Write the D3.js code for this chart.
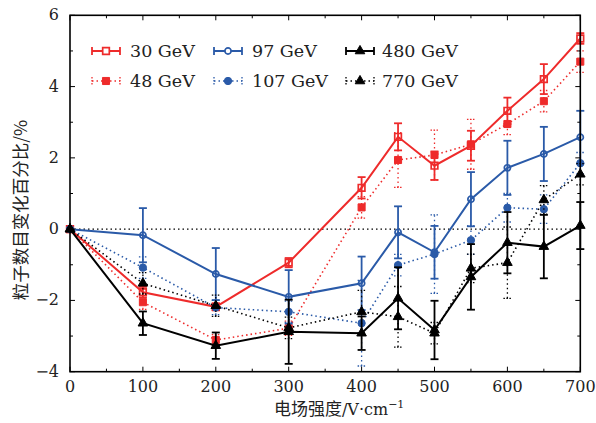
<!DOCTYPE html>
<html><head><meta charset="utf-8">
<script src="https://cdn.jsdelivr.net/npm/d3@7/dist/d3.min.js"></script>
<style>body{margin:0;background:#fff}</style>
</head><body>
<svg id="c" width="596" height="423"></svg>
<script>
const xValues = [0,100,200,300,400,450,500,550,600,650,700];
const s30  = [0,-1.77,-2.18,-0.94,1.16,2.59,1.78,2.34,3.32,4.21,5.35];
const e30  = [0,0.15,0.10,0.13,0.30,0.38,0.40,0.42,0.37,0.42,0.15];
const s48  = [0,-2.05,-3.11,-2.78,0.61,1.94,2.08,2.38,2.95,3.59,4.70];
const e48  = [0,0.20,0.15,0.20,0.30,0.77,0.70,0.70,0.30,0.30,0.30];
const s97  = [0,-0.17,-1.26,-1.90,-1.52,-0.09,-0.65,0.84,1.72,2.11,2.58];
const e97  = [0,0.76,0.73,0.75,0.75,0.73,0.74,0.76,0.76,0.76,0.74];
const s107 = [0,-1.08,-2.20,-2.32,-2.64,-1.01,-0.70,-0.31,0.60,0.56,1.85];
const e107 = [0,0.30,0.20,0.30,1.20,0.30,1.10,0.40,0.40,0.40,0.30];
const s480 = [0,-2.64,-3.27,-2.88,-2.92,-1.94,-2.83,-1.34,-0.38,-0.49,0.10];
const e480 = [0,0.33,0.37,0.90,0.47,0.87,0.82,0.92,0.86,0.89,0.66];
const s770 = [0,-1.52,-2.15,-2.77,-2.32,-2.46,-2.92,-1.10,-0.94,0.82,1.54];
const e770 = [0,0.30,0.30,0.30,0.60,0.85,0.30,0.40,1.00,0.40,0.30];
const seriesNames = ["30 GeV","48 GeV","97 GeV","107 GeV","480 GeV","770 GeV"];
const xTicks = [0,100,200,300,400,500,600,700];
const yTicks = [-4,-2,0,2,4,6];
const xLabel = "电场强度/V·cm";
const yLabel = "粒子数目变化百分比/%";

const RED="#ee2b2b", BLUE="#2a5aa8", BLACK="#000";
const series = [
  {name:seriesNames[0], v:s30,  e:e30,  color:RED,   dotted:false, sym:d3.symbolSquare,   open:true,  size:44},
  {name:seriesNames[1], v:s48,  e:e48,  color:RED,   dotted:true,  sym:d3.symbolSquare,   open:false, size:50},
  {name:seriesNames[2], v:s97,  e:e97,  color:BLUE,  dotted:false, sym:d3.symbolCircle,   open:true,  size:30},
  {name:seriesNames[3], v:s107, e:e107, color:BLUE,  dotted:true,  sym:d3.symbolCircle,   open:false, size:42},
  {name:seriesNames[4], v:s480, e:e480, color:BLACK, dotted:false, sym:d3.symbolTriangle, open:false, size:40},
  {name:seriesNames[5], v:s770, e:e770, color:BLACK, dotted:true,  sym:d3.symbolTriangle, open:false, size:40}
];

const L=70, R=580.3, T=15.3, B=371.7;
const svg=d3.select("#c");
const x=d3.scaleLinear().domain([0,700]).range([L,R]);
const y=d3.scaleLinear().domain([-4,6]).range([B,T]);
const serif="'DejaVu Serif',serif";
const cjk="'Noto Sans CJK SC',sans-serif";

svg.append("line").attr("x1",x(0)).attr("x2",x(700)).attr("y1",y(0)).attr("y2",y(0))
  .attr("stroke","#000").attr("stroke-width",1.2).attr("stroke-dasharray","1.5,3");

const line=d3.line().x((d,i)=>x(xValues[i])).y(d=>y(d));
series.forEach(s=>{
  const g=svg.append("g");
  const dash = s.dotted ? "1.5,3" : null;
  s.v.forEach((v,i)=>{
    const e=s.e[i]; if(!e) return;
    const cx=x(xValues[i]);
    g.append("line").attr("x1",cx).attr("x2",cx).attr("y1",y(v-e)).attr("y2",y(v+e))
      .attr("stroke",s.color).attr("stroke-width",s.dotted?1.3:1.8).attr("stroke-dasharray",dash);
    [v-e,v+e].forEach(yy=>g.append("line").attr("x1",cx-4).attr("x2",cx+4).attr("y1",y(yy)).attr("y2",y(yy))
      .attr("stroke",s.color).attr("stroke-width",s.dotted?1.3:1.8).attr("stroke-dasharray",s.dotted?"1.5,1.5":null));
  });
  g.append("path").attr("d",line(s.v)).attr("fill","none").attr("stroke",s.color)
    .attr("stroke-width",s.dotted?1.6:2).attr("stroke-dasharray",dash);
  s.v.forEach((v,i)=>{
    g.append("path").attr("d",d3.symbol(s.sym,s.size)()).attr("transform",`translate(${x(xValues[i])},${y(v)})`)
      .attr("fill",s.open?"none":s.color).attr("stroke",s.color).attr("stroke-width",s.open?1.7:1);
  });
});

svg.append("rect").attr("x",L).attr("y",T).attr("width",R-L).attr("height",B-T)
  .attr("fill","none").attr("stroke","#000").attr("stroke-width",1.6);
const tk=svg.append("g").attr("stroke","#000").attr("stroke-width",1);
d3.range(0,701,50).forEach(v=>{
  const len = v%100===0?5:3;
  tk.append("line").attr("x1",x(v)).attr("x2",x(v)).attr("y1",B).attr("y2",B-len);
  tk.append("line").attr("x1",x(v)).attr("x2",x(v)).attr("y1",T).attr("y2",T+len);
});
d3.range(-4,6.01,1).forEach(v=>{
  const len = v%2===0?5:3;
  tk.append("line").attr("x1",L).attr("x2",L+len).attr("y1",y(v)).attr("y2",y(v));
  tk.append("line").attr("x1",R).attr("x2",R-len).attr("y1",y(v)).attr("y2",y(v));
});
const fmt=d=>d<0?"\u2212"+Math.abs(d):String(d);
svg.append("g").selectAll("text").data(xTicks).join("text")
  .attr("x",d=>x(d)).attr("y",B+20).attr("text-anchor","middle")
  .attr("font-family",serif).attr("font-size",16).attr("fill","#222").text(fmt);
svg.append("g").selectAll("text").data(yTicks).join("text")
  .attr("x",L-11).attr("y",d=>y(d)+5).attr("text-anchor","end")
  .attr("font-family",serif).attr("font-size",16).attr("fill","#222").text(fmt);

const xt=svg.append("text").attr("x",(L+R)/2+14).attr("y",415).attr("text-anchor","middle")
  .attr("font-family",cjk).attr("font-size",17).attr("fill","#222");
xt.append("tspan").text("电场强度");
xt.append("tspan").attr("font-family",serif).attr("font-size",16).text("/V·cm");
xt.append("tspan").attr("font-family",serif).attr("font-size",11).attr("dy",-7).text("\u22121");
svg.append("text").attr("transform","translate(27,210) rotate(-90)").attr("text-anchor","middle")
  .attr("font-family",cjk).attr("font-size",17.5).attr("fill","#222").text(yLabel);

const cols=[[92,130],[214,252],[346,382]];
const rows=[51,81];
series.forEach((s,i)=>{
  const c=cols[Math.floor(i/2)], r=rows[i%2];
  const g=svg.append("g");
  const dash=s.dotted?"1.5,3":null;
  g.append("line").attr("x1",c[0]).attr("x2",c[0]+28).attr("y1",r).attr("y2",r)
    .attr("stroke",s.color).attr("stroke-width",s.dotted?1.6:2).attr("stroke-dasharray",dash);
  [c[0],c[0]+28].forEach(xx=>g.append("line").attr("x1",xx).attr("x2",xx).attr("y1",r-4).attr("y2",r+4)
    .attr("stroke",s.color).attr("stroke-width",s.dotted?1.3:1.8).attr("stroke-dasharray",s.dotted?"1.5,1.5":null));
  g.append("path").attr("d",d3.symbol(s.sym,s.size)()).attr("transform",`translate(${c[0]+14},${r})`)
    .attr("fill",s.open?"#fff":s.color).attr("stroke",s.color).attr("stroke-width",s.open?1.7:1);
  g.append("text").attr("x",c[1]).attr("y",r+6).attr("font-family",serif).attr("font-size",17.5).attr("fill","#222").text(s.name);
});
</script>
</body></html>
